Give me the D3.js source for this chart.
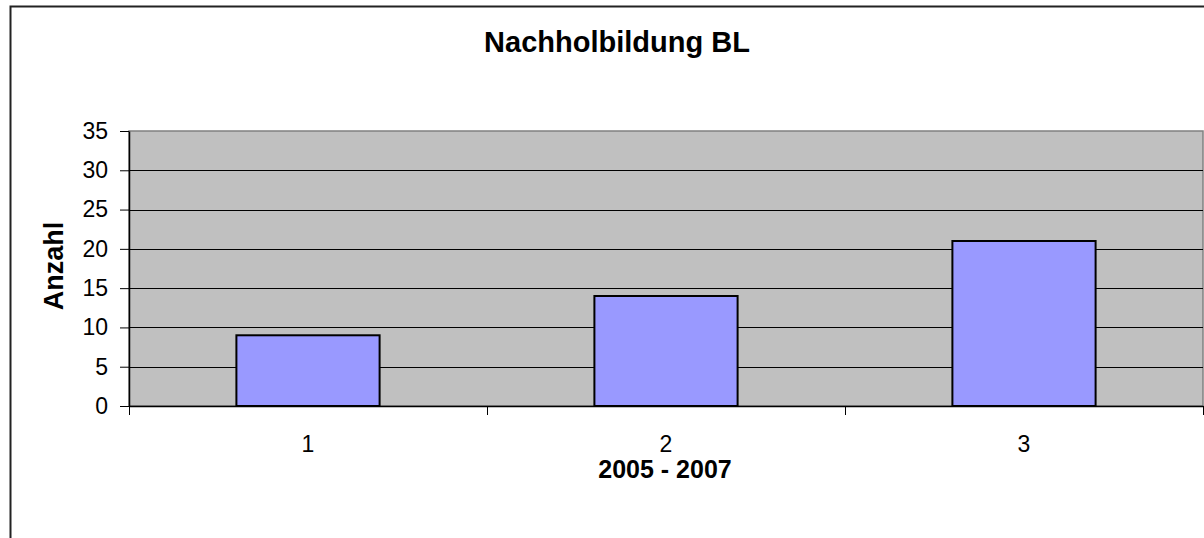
<!DOCTYPE html>
<html>
<head>
<meta charset="utf-8">
<script src="https://cdn.jsdelivr.net/npm/d3@7"></script>
<style>
  body { margin: 0; background: #fff; }
  text { font-family: "Liberation Sans", Arial, sans-serif; }
</style>
</head>
<body>
<script>
// values
const categories = ["1", "2", "3"];
const values = [9, 14, 21];
const yTicks = [0, 5, 10, 15, 20, 25, 30, 35];

const w = 1204, h = 538;
const margin = {top: 131, right: 1, bottom: 132, left: 129};

let svg = d3.select("body")
    .append("svg")
    .attr("width", w)
    .attr("height", h);

// outer chart frame (runs off the picture right and bottom)
svg.append("rect")
    .attr("x", 10.5)
    .attr("y", 6.5)
    .attr("width", w + 20)
    .attr("height", h + 20)
    .attr("fill", "#fff")
    .attr("stroke", "#222")
    .attr("stroke-width", 2);

let x = d3.scaleBand()
    .domain(categories)
    .range([margin.left, w - margin.right])
    .paddingInner(0.6)
    .paddingOuter(0.3);

let xEdge = d3.scaleLinear()
    .domain([0, categories.length])
    .range([margin.left, w - margin.right]);

let y = d3.scaleLinear()
    .domain([0, 35])
    .range([h - margin.bottom, margin.top]);

// plot area
svg.append("rect")
    .attr("x", margin.left)
    .attr("y", y(35))
    .attr("width", w - margin.right - margin.left)
    .attr("height", y(0) - y(35))
    .attr("fill", "#c0c0c0")
    .attr("stroke", "#808080")
    .attr("stroke-width", 1.5);

// gridlines
svg.append("g")
    .selectAll("line")
    .data(yTicks.filter(d => d > 0 && d < 35))
    .enter().append("line")
    .attr("x1", margin.left)
    .attr("x2", w - margin.right)
    .attr("y1", d => Math.round(y(d)) + 0.5)
    .attr("y2", d => Math.round(y(d)) + 0.5)
    .attr("stroke", "#000");

// bars
svg.append("g")
    .attr("fill", "#9999ff")
    .attr("stroke", "#000")
    .attr("stroke-width", 2)
    .selectAll("rect")
    .data(values)
    .enter().append("rect")
    .attr("x", (d, i) => x(categories[i]))
    .attr("width", x.bandwidth())
    .attr("y", d => y(d))
    .attr("height", d => y(0) - y(d));

// y axis
let yAxis = g => g
    .attr("transform", `translate(${margin.left},0)`)
    .call(d3.axisLeft(y).tickValues(yTicks).tickSize(9).tickPadding(12).tickSizeOuter(0))
    .call(g => g.select(".domain").attr("stroke-width", 1.5))
    .call(g => g.selectAll("text").attr("font-size", 23).attr("fill", "#000"));

// x axis: ticks on category boundaries, labels in the middle
let xAxis = g => g
    .attr("transform", `translate(0,${y(0)})`)
    .call(d3.axisBottom(xEdge).tickValues(d3.range(categories.length + 1)).tickSize(9).tickFormat("").tickSizeOuter(0))
    .call(g => g.select(".domain").attr("stroke-width", 1.5));

svg.append("g").call(yAxis);
svg.append("g").call(xAxis);

svg.append("g")
    .selectAll("text")
    .data(categories)
    .enter().append("text")
    .attr("x", d => x(d) + x.bandwidth() / 2)
    .attr("y", 452)
    .attr("text-anchor", "middle")
    .attr("font-size", 23)
    .text(d => d);

// titles
svg.append("text")
    .attr("x", 617)
    .attr("y", 52)
    .attr("text-anchor", "middle")
    .attr("font-size", 29)
    .attr("font-weight", "bold")
    .text("Nachholbildung BL");

svg.append("text")
    .attr("x", 665)
    .attr("y", 478)
    .attr("text-anchor", "middle")
    .attr("font-size", 25)
    .attr("font-weight", "bold")
    .text("2005 - 2007");

svg.append("text")
    .attr("transform", "translate(63,266) rotate(-90)")
    .attr("text-anchor", "middle")
    .attr("font-size", 27)
    .attr("font-weight", "bold")
    .text("Anzahl");
</script>
</body>
</html>
